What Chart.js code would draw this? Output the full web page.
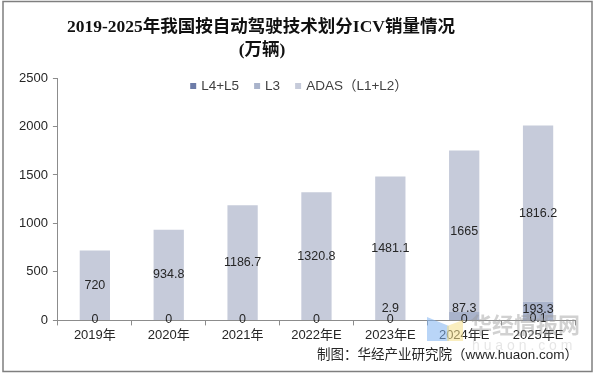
<!DOCTYPE html>
<html>
<head>
<meta charset="utf-8">
<script src="https://cdn.jsdelivr.net/npm/chart.js@4"></script>
<style>
  html, body { margin: 0; padding: 0; background: #fff; }
  #wrap { width: 596px; height: 377px; }
</style>
</head>
<body>
<div id="wrap"><canvas id="icv"></canvas></div>
<script>
const years = ['2019年', '2020年', '2021年', '2022年E', '2023年E', '2024年E', '2025年E'];
const l4l5 = [0, 0, 0, 0, 0, 0, 0.1];
const l3 = [0, 0, 0, 0, 2.9, 87.3, 193.3];
const adas = [720, 934.8, 1186.7, 1320.8, 1481.1, 1665, 1816.2];
const yTicks = [0, 500, 1000, 1500, 2000, 2500];

const titleLines = ['2019-2025年我国按自动驾驶技术划分ICV销量情况', '(万辆)'];
const sourceText = '制图：华经产业研究院（www.huaon.com）';

const sans = "'Liberation Sans', Arial, 'Noto Sans CJK SC', sans-serif";
const serif = "'Liberation Serif', 'DejaVu Serif', 'Noto Sans CJK SC', serif";

// frame, title, legend, source and the watermark
const decor = {
  id: 'decor',
  beforeDraw(chart) {
    const ctx = chart.ctx;
    ctx.save();
    ctx.fillStyle = '#fff';
    ctx.fillRect(0, 0, chart.width, chart.height);
    ctx.restore();
  },
  afterDraw(chart) {
    const ctx = chart.ctx;
    ctx.save();
    ctx.strokeStyle = '#7f7f7f';
    ctx.lineWidth = 1.5;
    ctx.strokeRect(3, 1.5, 589, 370);

    ctx.fillStyle = '#111';
    ctx.textAlign = 'center';
    ctx.textBaseline = 'middle';
    ctx.font = 'bold 17.5px ' + serif;
    ctx.fillText(titleLines[0], 261, 27);
    ctx.fillText(titleLines[1], 262, 50);

    // legend
    ctx.font = '13.5px ' + sans;
    ctx.textAlign = 'left';
    const items = chart.data.datasets.map(d => ({ text: d.label, color: d.backgroundColor }));
    const box = 6, gap = 5, sp = 15;
    let total = 0;
    items.forEach((it, i) => {
      total += box + gap + ctx.measureText(it.text).width + (i < items.length - 1 ? sp : 0);
    });
    let x = 299 - total / 2;
    const ly = 86;
    items.forEach(it => {
      ctx.fillStyle = it.color;
      ctx.fillRect(x, ly - 3, box, box);
      x += box + gap;
      ctx.fillStyle = '#404040';
      ctx.fillText(it.text, x, ly);
      x += ctx.measureText(it.text).width + sp;
    });

    // watermark
    ctx.globalAlpha = 0.55;
    ctx.fillStyle = '#7fb2f0';
    ctx.beginPath();
    ctx.moveTo(427, 317); ctx.lineTo(449, 326); ctx.lineTo(449, 341); ctx.lineTo(427, 341);
    ctx.closePath(); ctx.fill();
    ctx.fillStyle = '#f5e08a';
    ctx.beginPath();
    ctx.moveTo(447, 326); ctx.lineTo(463, 320); ctx.lineTo(463, 341); ctx.lineTo(447, 341);
    ctx.closePath(); ctx.fill();
    ctx.globalAlpha = 0.45;
    ctx.fillStyle = '#9a9a9a';
    ctx.font = 'bold 22px ' + sans;
    ctx.fillText('华经情报网', 470, 327);
    ctx.globalAlpha = 0.25;
    ctx.font = '14px ' + sans;
    ctx.fillText('h u a o n . c o m', 472, 346);
    ctx.globalAlpha = 1;

    ctx.fillStyle = '#262626';
    ctx.font = '13.5px ' + sans;
    ctx.textAlign = 'right';
    ctx.fillText(sourceText, 578, 355);
    ctx.restore();
  }
};

// value labels on the bar segments
const barLabels = {
  id: 'barLabels',
  afterDatasetsDraw(chart) {
    const ctx = chart.ctx;
    ctx.save();
    ctx.font = '12.5px ' + sans;
    ctx.fillStyle = '#262626';
    ctx.textAlign = 'center';
    ctx.textBaseline = 'middle';
    chart.data.datasets.forEach((ds, di) => {
      chart.getDatasetMeta(di).data.forEach((bar, i) => {
        const v = ds.data[i];
        let y;
        if (di === 0) {
          y = bar.base - 1;
        } else if (di === 1) {
          if (v === 0) return;
          y = Math.min((bar.y + bar.base) / 2, bar.base - 11);
        } else {
          y = (bar.y + bar.base) / 2;
        }
        ctx.fillText(String(v), bar.x, y);
      });
    });
    ctx.restore();
  }
};

new Chart(document.getElementById('icv'), {
  type: 'bar',
  data: {
    labels: years,
    datasets: [
      { label: 'L4+L5', data: l4l5, backgroundColor: '#6d7ca8' },
      { label: 'L3', data: l3, backgroundColor: '#a9b3cb' },
      { label: 'ADAS（L1+L2）', data: adas, backgroundColor: '#c6cbda' }
    ]
  },
  options: {
    responsive: true,
    maintainAspectRatio: false,
    animation: false,
    layout: { padding: { top: 78, left: 14, right: 21, bottom: 32 } },
    datasets: { bar: { barPercentage: 0.41, categoryPercentage: 1 } },
    plugins: {
      legend: { display: false },
      title: { display: false },
      tooltip: { enabled: false }
    },
    scales: {
      x: {
        stacked: true,
        grid: { drawOnChartArea: false, tickLength: 5, color: '#8c8c8c', offset: true },
        border: { color: '#8c8c8c' },
        ticks: { color: '#262626', font: { size: 13, family: sans }, padding: 2, maxRotation: 0 }
      },
      y: {
        stacked: true,
        min: 0,
        max: 2500,
        afterBuildTicks: axis => { axis.ticks = yTicks.map(v => ({ value: v })); },
        grid: { drawOnChartArea: false, tickLength: 5, color: '#8c8c8c' },
        border: { color: '#8c8c8c' },
        ticks: { color: '#262626', font: { size: 13, family: sans }, padding: 5, callback: v => String(v) }
      }
    }
  },
  plugins: [decor, barLabels]
});
</script>
</body>
</html>
